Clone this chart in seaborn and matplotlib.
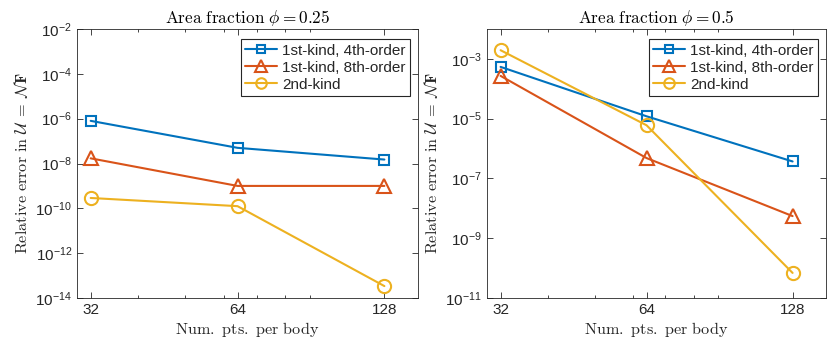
import numpy as np
import pandas as pd
import matplotlib
matplotlib.use("Agg")
import matplotlib.pyplot as plt
import matplotlib.ticker as mticker
import seaborn as sns

# ---- data ----
npts = [32, 64, 128]
series_names = ["1st-kind, 4th-order", "1st-kind, 8th-order", "2nd-kind"]

# Area fraction 0.25
err025_kind1_o4 = [8.0e-7, 5.0e-8, 1.5e-8]
err025_kind1_o8 = [1.7e-8, 1.0e-9, 1.0e-9]
err025_kind2 = [2.9e-10, 1.25e-10, 3.4e-14]

# Area fraction 0.5
err05_kind1_o4 = [5.4e-4, 1.2e-5, 3.7e-7]
err05_kind1_o8 = [2.7e-4, 4.8e-7, 5.5e-9]
err05_kind2 = [1.95e-3, 6.0e-6, 6.9e-11]

titles = [r"$\mathrm{Area\ fraction}\ \phi = 0.25$", r"$\mathrm{Area\ fraction}\ \phi = 0.5$"]
ylabel = r"$\mathrm{Relative\ error\ in}\ \mathcal{U}\;=\;\mathcal{N}\mathbf{F}$"
xlabel = r"$\mathrm{Num.\ pts.\ per\ body}$"
xticklabels = ["32", "64", "128"]
xminor = [40, 50, 60, 70, 80, 90]
ylims = [(1e-14, 1e-2), (1e-11, 1e-2)]
yticks = [[1e-14, 1e-12, 1e-10, 1e-8, 1e-6, 1e-4, 1e-2],
          [1e-11, 1e-9, 1e-7, 1e-5, 1e-3]]

colors = ["#0072BD", "#D95319", "#EDB120"]
markers = ["s", "^", "o"]
msizes = [7, 10, 9.5]

sns.set_theme(style="white")
plt.rcParams["font.family"] = ["Liberation Sans", "DejaVu Sans"]
plt.rcParams["mathtext.fontset"] = "cm"

fig = plt.figure(figsize=(8.27, 3.39), dpi=100)
ax1 = fig.add_axes([77/827, 41/339, 341/827, 269/339])
ax2 = fig.add_axes([487/827, 41/339, 339/827, 269/339])

data_sets = [
    [err025_kind1_o4, err025_kind1_o8, err025_kind2],
    [err05_kind1_o4, err05_kind1_o8, err05_kind2],
]

axc = "#262626"
for k, ax in enumerate([ax1, ax2]):
    for i, name in enumerate(series_names):
        df = pd.DataFrame({"n": npts, "err": data_sets[k][i]})
        sns.lineplot(data=df, x="n", y="err", ax=ax, color=colors[i],
                     marker=markers[i], markersize=msizes[i],
                     markerfacecolor="none", markeredgecolor=colors[i],
                     markeredgewidth=1.5, linewidth=1.5, label=name)
    ax.set_xscale("log")
    ax.set_yscale("log")
    ax.set_xlim(30, 150)
    ax.set_ylim(*ylims[k])
    ax.xaxis.set_major_locator(mticker.FixedLocator(npts))
    ax.xaxis.set_major_formatter(mticker.FixedFormatter(xticklabels))
    ax.xaxis.set_minor_locator(mticker.FixedLocator(xminor))
    ax.xaxis.set_minor_formatter(mticker.NullFormatter())
    ax.yaxis.set_major_locator(mticker.FixedLocator(yticks[k]))
    ax.yaxis.set_major_formatter(mticker.FuncFormatter(
        lambda v, p: r"$\mathregular{10^{%d}}$" % int(round(np.log10(v)))))
    ax.yaxis.set_minor_locator(mticker.NullLocator())
    ax.tick_params(which="both", direction="in", top=True, right=True,
                   bottom=True, left=True, colors=axc, labelsize=11,
                   width=0.6)
    ax.tick_params(which="major", length=4)
    ax.tick_params(which="minor", length=2.5)
    for s in ax.spines.values():
        s.set_visible(True)
        s.set_color(axc)
        s.set_linewidth(0.6)
    ax.set_title(titles[k], fontsize=12.4, color="black", pad=4)
    ax.set_xlabel(xlabel, fontsize=11.7, color=axc, labelpad=2)
    ax.set_ylabel(ylabel, fontsize=11.7, color=axc, labelpad=4)
    w = ax.get_position().width * 827
    leg = ax.legend(loc="upper right",
                    bbox_to_anchor=(1 - 8 / w, (298 - 39) / 269),
                    fontsize=11, frameon=True, fancybox=False,
                    handlelength=2.1, handletextpad=0.3, borderpad=0.3,
                    labelspacing=0.2, borderaxespad=0.0, markerscale=0.8)
    leg.get_frame().set_edgecolor(axc)
    leg.get_frame().set_linewidth(0.8)
    leg.get_frame().set_facecolor("white")
    leg.get_frame().set_alpha(1)

fig.savefig("out.png", dpi=100)
